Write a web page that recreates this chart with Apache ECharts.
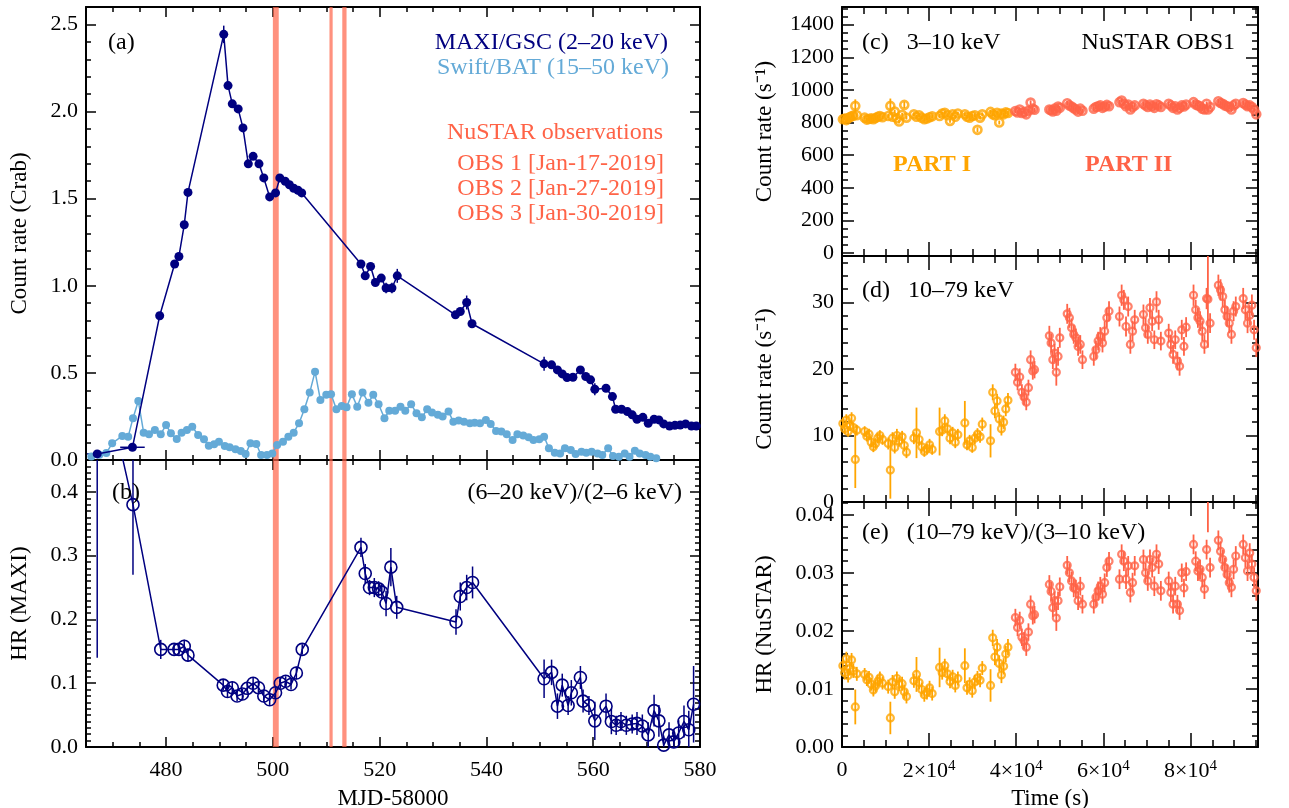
<!DOCTYPE html>
<html lang="en">
<head>
<meta charset="UTF-8">
<title>MAXI / Swift / NuSTAR light curves</title>
<script src="https://cdn.jsdelivr.net/npm/echarts@6.0.0/dist/echarts.min.js"></script>
<style>
  html, body { margin: 0; padding: 0; background: #fff; }
  #chart { width: 1289px; height: 808px; }
</style>
</head>
<body>
<div id="chart"></div>
<script>
// ---------- left panels: MJD-58000 ----------
var maxiMjd = [467.1, 473.7, 478.8, 481.6, 482.4, 483.4, 484.1, 490.8,
  491.6, 492.4, 493.5, 494.4, 495.4, 496.3, 497.4, 498.3,
  499.4, 500.5, 501.3, 502.3, 503.1, 503.9, 504.7, 505.4,
  516.5, 517.3, 518.3, 519.2, 520.3, 521.2, 522.3, 523.3,
  534.2, 535.1, 536.3, 537.3, 550.8, 552.2, 553.3, 554.2,
  555.1, 556.2, 557.6, 558.6, 559.5, 560.3, 562.4, 563.6,
  564.2, 565.3, 566.4, 567.3, 568.2, 569.3, 570.3, 571.4,
  572.3, 573.2, 574.3, 575.3, 576.3, 577.3, 578.4, 579.3];
var maxiRate = [0.035, 0.073, 0.828, 1.125, 1.168, 1.35, 1.536, 2.443,
  2.149, 2.044, 2.015, 1.906, 1.70, 1.743, 1.70, 1.619,
  1.51, 1.533, 1.619, 1.60, 1.58, 1.56, 1.548, 1.533,
  1.125, 1.057, 1.111, 1.019, 1.044, 0.987, 0.987, 1.057,
  0.833, 0.852, 0.904, 0.782, 0.552, 0.546, 0.517, 0.494,
  0.473, 0.475, 0.517, 0.479, 0.46, 0.406, 0.412, 0.364,
  0.291, 0.291, 0.278, 0.259, 0.234, 0.245, 0.211, 0.234,
  0.23, 0.207, 0.195, 0.199, 0.201, 0.207, 0.195, 0.195];
var maxiErr = [0.02, 0.02, 0.02, 0.02, 0.02, 0.02, 0.02, 0.05,
  0.02, 0.02, 0.02, 0.02, 0.02, 0.02, 0.02, 0.02,
  0.02, 0.02, 0.02, 0.02, 0.02, 0.02, 0.02, 0.02,
  0.02, 0.02, 0.02, 0.02, 0.02, 0.03, 0.03, 0.04,
  0.02, 0.02, 0.04, 0.02, 0.04, 0.02, 0.02, 0.02,
  0.02, 0.02, 0.02, 0.02, 0.02, 0.035, 0.02, 0.02,
  0.02, 0.02, 0.02, 0.02, 0.02, 0.02, 0.02, 0.02,
  0.02, 0.02, 0.02, 0.02, 0.02, 0.02, 0.02, 0.02];
var maxiXerr = [1.9, 2.3];

var batMjd = [466.0, 467.5, 468.8, 469.9, 471.8, 472.9, 473.8, 474.8, 475.8, 476.8,
  477.9, 479.0, 480.0, 480.9, 482.0, 482.9, 483.9, 484.9, 486.0, 487.1,
  488.0, 489.0, 489.9, 491.0, 491.9, 493.0, 494.0, 494.9, 495.8, 496.9,
  497.8, 498.9, 499.9, 500.8, 501.9, 502.9, 503.9, 504.9, 505.9, 506.9,
  507.9, 508.9, 510.0, 510.9, 511.9, 512.9, 513.8, 514.8, 515.8, 516.8,
  517.9, 518.8, 519.8, 520.9, 521.8, 522.9, 523.9, 524.8, 525.9, 526.9,
  527.9, 528.9, 529.8, 530.9, 531.8, 532.9, 533.8, 534.8, 535.8, 536.9,
  537.8, 538.8, 539.9, 540.8, 541.8, 542.8, 543.8, 544.9, 545.8, 546.9,
  547.9, 548.8, 549.9, 550.8, 551.7, 552.8, 553.8, 554.7, 555.8, 556.7,
  557.8, 558.7, 559.7, 560.8, 561.7, 562.8, 563.7, 564.8, 565.9, 566.8,
  567.8, 568.7, 569.8, 570.7, 571.8];
var batRate = [0.02, 0.03, 0.04, 0.096, 0.138, 0.134, 0.24, 0.339, 0.157, 0.148,
  0.172, 0.148, 0.201, 0.153, 0.121, 0.157, 0.172, 0.191, 0.144, 0.119,
  0.082, 0.09, 0.105, 0.08, 0.073, 0.061, 0.052, 0.034, 0.096, 0.092,
  0.029, 0.029, 0.038, 0.086, 0.105, 0.134, 0.157, 0.211, 0.291, 0.387,
  0.507, 0.345, 0.374, 0.378, 0.291, 0.31, 0.303, 0.378, 0.306, 0.387,
  0.329, 0.374, 0.32, 0.24, 0.282, 0.282, 0.306, 0.282, 0.32, 0.268,
  0.245, 0.291, 0.272, 0.259, 0.249, 0.278, 0.22, 0.226, 0.22, 0.211,
  0.214, 0.211, 0.23, 0.207, 0.167, 0.163, 0.148, 0.115, 0.148, 0.14,
  0.13, 0.115, 0.119, 0.134, 0.067, 0.042, 0.038, 0.067, 0.057, 0.034,
  0.048, 0.042, 0.048, 0.038, 0.029, 0.067, 0.023, 0.019, 0.038, 0.019,
  0.053, 0.038, 0.029, 0.019, 0.01];

var hrMjd = [467.1, 473.8, 479.0, 481.5, 482.4, 483.4, 484.1, 490.7,
  491.5, 492.4, 493.3, 494.3, 495.2, 496.3, 497.3, 498.3,
  499.4, 500.5, 501.4, 502.4, 503.4, 504.4, 505.5, 516.5,
  517.3, 518.1, 519.0, 519.8, 520.4, 521.2, 522.1, 523.2,
  534.3, 535.1, 536.3, 537.4, 550.8, 552.2, 553.3, 554.2,
  555.3, 555.9, 557.6, 558.1, 559.2, 560.3, 562.4, 563.4,
  564.3, 565.2, 566.2, 567.3, 568.2, 569.2, 570.3, 571.4,
  572.3, 573.2, 574.2, 575.1, 576.0, 577.0, 577.9, 578.8];
var hrVal = [0.63, 0.38, 0.153, 0.153, 0.153, 0.158, 0.144, 0.097,
  0.087, 0.093, 0.08, 0.083, 0.092, 0.1, 0.093, 0.08,
  0.074, 0.085, 0.1, 0.103, 0.098, 0.116, 0.153, 0.313,
  0.272, 0.25, 0.25, 0.248, 0.243, 0.225, 0.282, 0.219,
  0.196, 0.236, 0.25, 0.258, 0.107, 0.117, 0.064, 0.097,
  0.065, 0.085, 0.109, 0.072, 0.065, 0.041, 0.064, 0.04,
  0.034, 0.04, 0.034, 0.036, 0.037, 0.033, 0.019, 0.057,
  0.041, 0.003, 0.019, 0.008, 0.022, 0.04, 0.027, 0.067];
var hrErr = [0.49, 0.11, 0.015, 0.008, 0.008, 0.01, 0.01, 0.008,
  0.01, 0.01, 0.008, 0.008, 0.008, 0.008, 0.008, 0.008,
  0.008, 0.008, 0.008, 0.008, 0.008, 0.01, 0.008, 0.015,
  0.015, 0.012, 0.015, 0.012, 0.012, 0.02, 0.03, 0.018,
  0.02, 0.022, 0.02, 0.025, 0.03, 0.02, 0.02, 0.018,
  0.015, 0.02, 0.018, 0.018, 0.015, 0.03, 0.02, 0.02,
  0.015, 0.015, 0.015, 0.015, 0.018, 0.018, 0.02, 0.025,
  0.025, 0.015, 0.02, 0.02, 0.02, 0.025, 0.03, 0.06];

// NuSTAR observation windows (MJD-58000)
var obsStart = [500.0, 510.6, 513.0];
var obsEnd = [501.1, 511.2, 513.8];

// ---------- right panels: NuSTAR OBS1, one row per orbit ----------
var nuTime = [
  [200, 600, 1000, 1400, 1800, 2200, 2600, 3050, 3400],
  [5200, 5700, 6200, 6700, 7200, 7700, 8200, 8700, 9300],
  [10600, 11100, 11600, 12100, 12600, 13100],
  [13800, 14300, 14800],
  [16500, 17100, 17700, 18300, 18900, 19500, 20100, 20700],
  [22400, 23000, 23600, 24200, 24800, 25400, 26000, 26600],
  [28200, 28700, 29300, 29900, 30500, 31100, 31700, 32200],
  [34100, 34600, 35100, 35600, 36100, 36600, 37100, 37600, 38100],
  [39800, 40300, 40800, 41300, 41800, 42300, 42800, 43300, 43800, 44200],
  [47600, 48000, 48400, 48800, 49200, 49600, 50000],
  [51700, 52200, 52700, 53200, 53700, 54200, 54700, 55200],
  [57800, 58300, 58800, 59300, 59800, 60300, 60800, 61300],
  [63700, 64200, 64700, 65200, 65700, 66200, 66700, 67200],
  [69200, 69700, 70200, 70700, 71200, 71700, 72200, 72700, 73200],
  [75000, 75500, 76000, 76500, 77000, 77500, 78000, 78500, 79000],
  [80700, 81200, 81700, 82200, 82700, 83200, 83700, 84000, 84500],
  [86400, 86900, 87400, 87900, 88400, 88900, 89400, 89900, 90400],
  [92100, 92600, 93100, 93600, 94100, 94600, 95100]
];
var softRate = [
  [820, 825, 815, 828, 832, 838, 842, 902, 845],
  [830, 818, 822, 826, 820, 828, 835, 840, 832],
  [840, 902, 835, 867, 826, 806],
  [847, 908, 830],
  [850, 835, 845, 830, 820, 825, 832, 838],
  [840, 855, 860, 845, 810, 850, 835, 855],
  [850, 835, 830, 840, 845, 755, 830, 850],
  [865, 850, 845, 860, 800, 855, 850, 862, 858],
  [870, 862, 880, 858, 865, 850, 872, 922, 885, 878],
  [880, 875, 868, 885, 872, 898, 890],
  [918, 905, 898, 888, 880, 867, 885, 872],
  [885, 895, 900, 905, 890, 898, 908, 900],
  [925, 935, 915, 900, 910, 880, 895, 905],
  [915, 905, 895, 910, 900, 890, 912, 905, 895],
  [915, 905, 890, 900, 880, 890, 905, 898, 910],
  [925, 910, 905, 900, 885, 880, 915, 880, 895],
  [930, 920, 915, 905, 900, 895, 880, 905, 915],
  [920, 910, 900, 905, 895, 880, 850]
];
var softErr = [
  [12, 12, 12, 12, 12, 12, 12, 40, 12],
  [12, 12, 12, 12, 12, 12, 12, 12, 12],
  [12, 45, 12, 12, 12, 12],
  [12, 20, 12],
  [12, 12, 12, 12, 12, 12, 12, 12],
  [12, 12, 12, 12, 12, 12, 12, 12],
  [12, 12, 12, 12, 12, 15, 12, 12],
  [12, 12, 12, 12, 12, 12, 12, 12, 12],
  [14, 14, 14, 14, 14, 14, 14, 14, 14, 14],
  [14, 14, 14, 14, 14, 14, 14],
  [14, 14, 14, 14, 14, 14, 14, 14],
  [14, 14, 14, 14, 14, 14, 14, 14],
  [14, 14, 14, 14, 14, 14, 14, 14],
  [14, 14, 14, 14, 14, 14, 14, 14, 14],
  [14, 14, 14, 14, 14, 14, 14, 14, 14],
  [14, 14, 14, 14, 14, 14, 14, 14, 14],
  [14, 14, 14, 14, 14, 14, 14, 14, 14],
  [14, 14, 14, 14, 14, 14, 14]
];
var hardRate = [
  [11.8, 11.0, 12.3, 10.6, 11.5, 12.6, 11.2, 6.4, 10.8],
  [10.6, 9.9, 10.2, 9.0, 8.3, 8.8, 9.6, 10.0, 9.4],
  [8.8, 4.8, 9.6, 8.2, 10.0, 9.2],
  [9.8, 8.5, 7.5],
  [9.6, 10.4, 9.4, 8.3, 7.6, 8.0, 8.6, 7.9],
  [10.6, 10.8, 12.2, 11.0, 9.6, 10.4, 9.0, 10.1],
  [11.9, 8.6, 9.2, 8.2, 9.6, 10.2, 9.8, 11.7],
  [9.2, 16.5, 13.7, 15.2, 12.5, 11.0, 12.0, 14.0, 15.3],
  [19.5, 18.0, 18.8, 16.5, 15.8, 15.0, 17.2, 21.4, 19.7, 19.9],
  [25.0, 23.9, 21.4, 22.4, 19.5, 21.9, 24.7],
  [28.3, 27.7, 26.2, 25.2, 24.7, 23.4, 23.7, 21.4],
  [21.9, 22.9, 24.2, 24.9, 23.9, 25.7, 27.7, 28.7],
  [27.9, 31.1, 30.4, 26.4, 29.4, 23.7, 25.7, 27.4],
  [28.2, 26.2, 25.2, 29.2, 27.2, 24.4, 30.1, 27.4, 24.2],
  [25.4, 23.7, 22.2, 24.4, 21.2, 20.4, 25.9, 23.4, 26.3],
  [31.1, 28.9, 27.7, 27.2, 25.7, 23.7, 30.6, 30.5, 26.9],
  [32.6, 31.9, 30.9, 28.9, 27.9, 26.9, 25.2, 28.7, 29.4],
  [30.6, 28.9, 26.9, 28.1, 29.6, 25.9, 23.2]
];
var hardErr = [
  [0.9, 0.8, 0.9, 0.8, 0.8, 0.9, 0.8, 4.3, 0.8],
  [0.8, 0.8, 0.8, 0.8, 0.8, 0.8, 0.8, 0.8, 0.8],
  [0.9, 4.3, 0.9, 0.9, 1.0, 0.9],
  [0.9, 0.9, 0.9],
  [0.9, 3.8, 0.9, 0.9, 0.8, 0.8, 0.9, 0.8],
  [3.6, 0.9, 1.0, 0.9, 0.9, 0.9, 0.9, 0.9],
  [3.3, 0.8, 0.9, 0.8, 0.9, 0.9, 0.9, 1.0],
  [2.5, 1.2, 1.1, 1.1, 1.0, 1.0, 1.0, 1.1, 1.1],
  [1.3, 1.2, 1.3, 1.2, 1.2, 1.2, 1.2, 1.4, 1.3, 1.3],
  [1.5, 1.4, 1.4, 1.4, 2.0, 1.4, 1.5],
  [1.5, 1.5, 1.4, 1.4, 1.4, 1.4, 1.4, 1.4],
  [1.4, 1.4, 1.4, 1.4, 1.4, 1.5, 1.5, 1.5],
  [1.5, 1.6, 1.5, 1.5, 1.5, 1.4, 1.5, 1.5],
  [1.5, 1.5, 1.4, 1.5, 1.5, 1.4, 1.6, 1.5, 1.4],
  [1.4, 1.4, 1.4, 1.4, 1.4, 1.4, 1.5, 1.4, 1.5],
  [1.6, 1.5, 1.5, 1.5, 1.5, 1.4, 1.6, 7.3, 1.5],
  [1.6, 1.6, 1.6, 1.5, 1.5, 1.5, 1.4, 1.5, 1.5],
  [1.6, 1.5, 1.5, 1.5, 1.6, 1.5, 1.4]
];
var nuHr = [
  [0.0140, 0.0128, 0.0152, 0.0123, 0.0135, 0.0150, 0.0131, 0.0069, 0.0126],
  [0.0125, 0.0116, 0.0120, 0.0108, 0.0098, 0.0105, 0.0113, 0.0119, 0.0110],
  [0.0104, 0.0050, 0.0112, 0.0095, 0.0118, 0.0108],
  [0.0109, 0.0095, 0.0087],
  [0.0114, 0.0125, 0.0111, 0.0099, 0.0090, 0.0094, 0.0102, 0.0092],
  [0.0137, 0.0128, 0.0140, 0.0126, 0.0113, 0.0121, 0.0106, 0.0118],
  [0.0140, 0.0102, 0.0108, 0.0097, 0.0112, 0.0119, 0.0115, 0.0136],
  [0.0106, 0.0188, 0.0155, 0.0172, 0.0144, 0.0124, 0.0139, 0.0160, 0.0172],
  [0.0223, 0.0206, 0.0218, 0.0189, 0.0183, 0.0172, 0.0198, 0.0246, 0.0226, 0.0228],
  [0.0280, 0.0268, 0.0240, 0.0252, 0.0222, 0.0252, 0.0276],
  [0.0313, 0.0300, 0.0286, 0.0274, 0.0272, 0.0252, 0.0277, 0.0246],
  [0.0246, 0.0258, 0.0269, 0.0277, 0.0263, 0.0283, 0.0309, 0.0320],
  [0.0289, 0.0332, 0.0320, 0.0289, 0.0312, 0.0266, 0.0283, 0.0312],
  [0.0323, 0.0300, 0.0286, 0.0323, 0.0309, 0.0277, 0.0332, 0.0315, 0.0269],
  [0.0286, 0.0266, 0.0246, 0.0277, 0.0246, 0.0235, 0.0300, 0.0274, 0.0302],
  [0.0349, 0.0320, 0.0303, 0.0306, 0.0292, 0.0272, 0.0340, 0.0500, 0.0309],
  [0.0356, 0.0337, 0.0323, 0.0309, 0.0297, 0.0283, 0.0275, 0.0306, 0.0329],
  [0.0349, 0.0326, 0.0303, 0.0334, 0.0315, 0.0292, 0.0269]
];
var nuHrErr = [
  [0.0012, 0.0012, 0.0012, 0.0012, 0.0012, 0.0012, 0.0012, 0.0030, 0.0012],
  [0.0011, 0.0011, 0.0011, 0.0011, 0.0011, 0.0011, 0.0011, 0.0011, 0.0011],
  [0.0012, 0.0028, 0.0012, 0.0012, 0.0012, 0.0012],
  [0.0012, 0.0012, 0.0012],
  [0.0012, 0.0030, 0.0012, 0.0012, 0.0012, 0.0012, 0.0012, 0.0012],
  [0.0034, 0.0012, 0.0012, 0.0012, 0.0012, 0.0012, 0.0012, 0.0012],
  [0.0030, 0.0012, 0.0012, 0.0012, 0.0012, 0.0012, 0.0012, 0.0012],
  [0.0028, 0.0014, 0.0014, 0.0014, 0.0014, 0.0014, 0.0014, 0.0014, 0.0014],
  [0.0015, 0.0015, 0.0015, 0.0015, 0.0015, 0.0015, 0.0015, 0.0015, 0.0015, 0.0015],
  [0.0016, 0.0016, 0.0016, 0.0016, 0.0022, 0.0016, 0.0016],
  [0.0016, 0.0016, 0.0016, 0.0016, 0.0016, 0.0016, 0.0016, 0.0016],
  [0.0016, 0.0016, 0.0016, 0.0016, 0.0016, 0.0016, 0.0016, 0.0016],
  [0.0017, 0.0017, 0.0017, 0.0017, 0.0017, 0.0017, 0.0017, 0.0017],
  [0.0017, 0.0017, 0.0017, 0.0017, 0.0017, 0.0017, 0.0017, 0.0017, 0.0017],
  [0.0016, 0.0016, 0.0016, 0.0016, 0.0016, 0.0016, 0.0016, 0.0016, 0.0016],
  [0.0017, 0.0017, 0.0017, 0.0017, 0.0017, 0.0017, 0.0017, 0.0130, 0.0017],
  [0.0017, 0.0017, 0.0017, 0.0017, 0.0017, 0.0017, 0.0017, 0.0017, 0.0017],
  [0.0017, 0.0017, 0.0017, 0.0017, 0.0017, 0.0017, 0.0017]
];
var partSplit = 39000; // s, end of PART I

// tick label positions
var mjdTicks = [480, 500, 520, 540, 560, 580];
var crabTicks = [0, 0.5, 1.0, 1.5, 2.0, 2.5];
var hrTicks = [0, 0.1, 0.2, 0.3, 0.4];
var timeTicks = [0, 20000, 40000, 60000, 80000];
var softTicks = [0, 200, 400, 600, 800, 1000, 1200, 1400];
var hardTicks = [0, 10, 20, 30];
var nuHrTicks = [0, 0.01, 0.02, 0.03, 0.04];

// ---------- styling ----------
var FONT = '"Liberation Serif", "Times New Roman", serif';
var NAVY = '#000080', SKY = '#64aad7', TOMATO = '#ff6347', ORANGE = '#ffa500';

function steps(a, b, s) {
  var out = [];
  for (var i = 0; a + i * s <= b + s * 1e-6; i++) out.push(+(a + i * s).toFixed(6));
  return out;
}
function flat(a) { return [].concat.apply([], a); }

var xAxes = [], yAxes = [];
function addAxis(list, grid, pos, r, o) {
  o = o || {};
  var tickLine = { color: '#000', width: 1.5 };
  list.push({
    type: 'value', gridIndex: grid, position: pos, min: r.min, max: r.max,
    axisLine: { show: true, onZero: false, lineStyle: { color: '#000', width: 2 } },
    axisTick: { show: true, inside: true, length: r.len[1], customValues: r.minor, lineStyle: tickLine },
    axisLabel: { show: false }, splitLine: { show: false }
  });
  var vertical = (pos === 'left' || pos === 'right');
  list.push({
    type: 'value', gridIndex: grid, position: pos, min: r.min, max: r.max,
    axisLine: { show: false, onZero: false },
    axisTick: { show: true, inside: true, length: r.len[0], customValues: r.major, lineStyle: tickLine },
    axisLabel: {
      show: !!o.label, customValues: r.major, formatter: r.fmt, margin: vertical ? 8 : 12,
      fontFamily: FONT, fontSize: 22, color: '#000',
      rich: { sup: { fontFamily: FONT, fontSize: 15, color: '#000', verticalAlign: 'top', padding: [0, 0, 9, 0] } }
    },
    splitLine: { show: false },
    name: o.name || '', nameLocation: 'middle', nameGap: o.nameGap || 0,
    nameRotate: vertical ? 90 : 0,
    nameTextStyle: { fontFamily: FONT, fontSize: 23, color: '#000' }
  });
  return list.length - 1;
}
function frame(grid, xr, yr, xo, yo) {
  var xi = addAxis(xAxes, grid, 'bottom', xr, xo);
  addAxis(xAxes, grid, 'top', xr);
  var yi = addAxis(yAxes, grid, 'left', yr, yo);
  addAxis(yAxes, grid, 'right', yr);
  return { x: xi, y: yi };
}

var oneDec = function (v) { return v.toFixed(1); };
var mjdRange = { min: 465, max: 580, major: mjdTicks, minor: steps(465, 580, 5), len: [10, 5], fmt: function (v) { return String(v); } };
var timeRange = { min: 0, max: 95500, major: timeTicks, minor: steps(0, 95500, 5000), len: [14, 7],
  fmt: function (v) { return v === 0 ? '0' : (v / 10000) + '×10{sup|4}'; } };

var A = frame(0, mjdRange, { min: 0, max: 2.6, major: crabTicks, minor: steps(0, 2.6, 0.1), len: [10, 5], fmt: oneDec },
  {}, { label: true, name: 'Count rate (Crab)', nameGap: 55 });
var B = frame(1, mjdRange, { min: 0, max: 0.45, major: hrTicks, minor: steps(0, 0.45, 0.01), len: [10, 5], fmt: oneDec },
  { label: true, name: 'MJD-58000', nameGap: 40 }, { label: true, name: 'HR (MAXI)', nameGap: 55 });
var C = frame(2, timeRange, { min: -18, max: 1508, major: softTicks, minor: steps(0, 1500, 50), len: [12, 6], fmt: String },
  {}, { label: true, name: 'Count rate (s⁻¹)', nameGap: 66 });
var D = frame(3, timeRange, { min: 0, max: 37, major: hardTicks, minor: steps(0, 36, 2), len: [12, 6], fmt: String },
  {}, { label: true, name: 'Count rate (s⁻¹)', nameGap: 66 });
var E = frame(4, timeRange, { min: 0, max: 0.0422, major: nuHrTicks, minor: steps(0, 0.042, 0.002), len: [12, 6],
  fmt: function (v) { return v.toFixed(2); } },
  { label: true, name: 'Time (s)', nameGap: 40 }, { label: true, name: 'HR (NuSTAR)', nameGap: 66 });

// ---------- series builders ----------
function errorSeries(ax, data, colorOf, width) {
  return {
    type: 'custom', xAxisIndex: ax.x, yAxisIndex: ax.y, clip: true, silent: true, z: 2,
    encode: { x: 0, y: 1 }, data: data,
    renderItem: function (params, api) {
      var x = api.value(0), y = api.value(1), ey = api.value(2), ex = api.value(3);
      var col = typeof colorOf === 'function' ? colorOf(x) : colorOf;
      var kids = [];
      if (ey > 0) {
        var a = api.coord([x, y - ey]), b = api.coord([x, y + ey]);
        kids.push({ type: 'line', shape: { x1: a[0], y1: a[1], x2: b[0], y2: b[1] }, style: { stroke: col, lineWidth: width } });
      }
      if (ex > 0) {
        var c = api.coord([x - ex, y]), d = api.coord([x + ex, y]);
        kids.push({ type: 'line', shape: { x1: c[0], y1: c[1], x2: d[0], y2: d[1] }, style: { stroke: col, lineWidth: width } });
      }
      return { type: 'group', children: kids };
    }
  };
}
var bands = {
  silent: true, itemStyle: { color: 'rgba(255,99,71,0.7)' },
  data: obsStart.map(function (s, i) { return [{ xAxis: s }, { xAxis: obsEnd[i] }]; })
};

var maxiPts = maxiMjd.map(function (m, i) { return [m, maxiRate[i]]; });
var maxiBars = maxiMjd.map(function (m, i) { return [m, maxiRate[i], maxiErr[i] || 0, maxiXerr[i] || 0]; });
var batPts = batMjd.map(function (m, i) { return [m, batRate[i]]; });
var hrPts = hrMjd.map(function (m, i) { return [m, hrVal[i]]; });
var hrBars = hrMjd.map(function (m, i) { return [m, hrVal[i], hrErr[i] || 0]; });

var tFlat = flat(nuTime);
function nuPanel(ax, vals, errs, size, border) {
  var v = flat(vals), e = flat(errs);
  var pts = tFlat.map(function (t, i) { return [t, v[i], e[i] || 0]; });
  var colorOf = function (t) { return t < partSplit ? ORANGE : TOMATO; };
  var mk = function (list, col) {
    return {
      type: 'scatter', xAxisIndex: ax.x, yAxisIndex: ax.y, silent: true, z: 3,
      symbol: 'circle', symbolSize: size,
      itemStyle: { color: 'rgba(255,255,255,0)', borderColor: col, borderWidth: border },
      data: list.map(function (p) { return [p[0], p[1]]; })
    };
  };
  return [
    errorSeries(ax, pts, colorOf, 1.8),
    mk(pts.filter(function (p) { return p[0] < partSplit; }), ORANGE),
    mk(pts.filter(function (p) { return p[0] >= partSplit; }), TOMATO)
  ];
}

function label(text, x, y, color, align, size, weight) {
  return {
    type: 'text', x: x, y: y, z: 100, silent: true,
    style: {
      text: text, fill: color || '#000', align: align || 'left', verticalAlign: 'middle',
      font: (weight || 'normal') + ' ' + (size || 24) + 'px ' + FONT
    }
  };
}

var series = [
  {
    type: 'line', xAxisIndex: A.x, yAxisIndex: A.y, data: batPts, z: 3,
    symbol: 'circle', symbolSize: 8,
    itemStyle: { color: SKY }, lineStyle: { color: SKY, width: 1.5 },
    markArea: bands
  },
  errorSeries(A, maxiBars, NAVY, 1.5),
  {
    type: 'line', xAxisIndex: A.x, yAxisIndex: A.y, data: maxiPts, z: 4,
    symbol: 'circle', symbolSize: 9,
    itemStyle: { color: NAVY }, lineStyle: { color: NAVY, width: 1.5 }
  },
  errorSeries(B, hrBars, NAVY, 1.5),
  {
    type: 'line', xAxisIndex: B.x, yAxisIndex: B.y, data: hrPts, z: 4,
    symbol: 'circle', symbolSize: 12,
    itemStyle: { color: 'rgba(255,255,255,0)', borderColor: NAVY, borderWidth: 1.6 },
    lineStyle: { color: NAVY, width: 1.5 },
    markArea: bands
  }
].concat(nuPanel(C, softRate, softErr, 8, 2.6), nuPanel(D, hardRate, hardErr, 7, 2.2), nuPanel(E, nuHr, nuHrErr, 7, 2.2));

var chart = echarts.init(document.getElementById('chart'));
chart.setOption({
  animation: false,
  backgroundColor: '#fff',
  grid: [
    { left: 86, top: 7, width: 614, height: 453, outerBoundsMode: 'none' },
    { left: 86, top: 460, width: 614, height: 287, outerBoundsMode: 'none' },
    { left: 842, top: 7, width: 416, height: 249, outerBoundsMode: 'none' },
    { left: 842, top: 256, width: 416, height: 246, outerBoundsMode: 'none' },
    { left: 842, top: 502, width: 416, height: 245, outerBoundsMode: 'none' }
  ],
  xAxis: xAxes,
  yAxis: yAxes,
  series: series,
  graphic: [
    label('(a)', 108, 43),
    label('MAXI/GSC (2–20 keV)', 668, 43, NAVY, 'right'),
    label('Swift/BAT (15–50 keV)', 669, 68, SKY, 'right'),
    label('NuSTAR observations', 663, 133, TOMATO, 'right'),
    label('OBS 1 [Jan-17-2019]', 664, 164, TOMATO, 'right'),
    label('OBS 2 [Jan-27-2019]', 664, 189, TOMATO, 'right'),
    label('OBS 3 [Jan-30-2019]', 664, 214, TOMATO, 'right'),
    label('(b)', 112, 493),
    label('(6–20 keV)/(2–6 keV)', 682, 493, '#000', 'right'),
    label('(c)   3–10 keV', 862, 43),
    label('NuSTAR OBS1', 1235, 43, '#000', 'right'),
    label('PART I', 893, 165, ORANGE, 'left', 24, 'bold'),
    label('PART II', 1085, 165, TOMATO, 'left', 24, 'bold'),
    label('(d)   10–79 keV', 862, 291),
    label('(e)   (10–79 keV)/(3–10 keV)', 862, 533)
  ]
});
</script>
</body>
</html>
